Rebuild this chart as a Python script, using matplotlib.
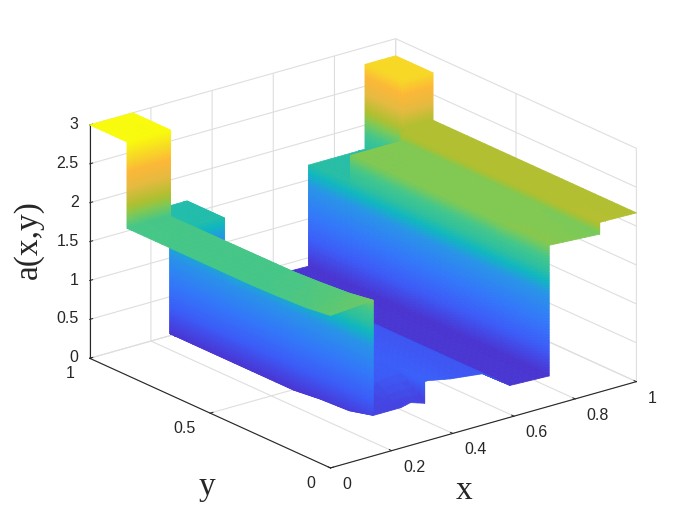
import numpy as np
import matplotlib
matplotlib.use('Agg')
import matplotlib.pyplot as plt
from matplotlib.colors import LinearSegmentedColormap, Normalize

# wezly siatki - powtorzona wartosc oznacza pionowa sciane
x_nodes = [0, .14, .14, .23, .262, .308, .308, .318, .318, .393, .497, .587, .715, .715, .88, .88, .9, .9, 1]
y_nodes = [0, .1, .22, .33, .825, .825, .845, .845, 1]

# a(x,y), jeden wiersz na kazde y_nodes
row_y000 = [1.96, 2.0, .52, .52, .55, .49, .77, .77, .77, .71, .66, .41, .39, 2.07, 2.03, 2.18, 2.18, 2.18, 2.17]
row_y010 = [1.92, 1.95, .44, .70, .72, .73, .75, .75, .75, .71, .66, .41, .39, 2.07, 2.04, 2.18, 2.18, 2.18, 2.17]
row_y022 = [1.90, 1.92, .42, .64, .70, .72, .73, .73, .73, .71, .66, .41, .39, 2.06, 2.05, 2.17, 2.17, 2.17, 2.17]
row_y033 = [1.89, 1.90, .38, .60, .68, .72, .72, .72, .72, .71, .66, .41, .39, 2.06, 2.06, 2.17, 2.17, 2.17, 2.17]
row_y082 = [1.89, 1.89, .38, .60, .68, .72, .72, .72, .72, .71, .66, .41, .39, 2.06, 2.06, 2.17, 2.17, 2.17, 2.17]
row_y083 = [1.89, 1.89, .38, .60, .68, .72, .72, .72, .72, .71, .66, .41, .39, 1.69, 1.69, 1.69, 1.69, 2.17, 2.17]
row_y084 = [1.89, 1.89, .38, .60, .68, .72, .72, .72, .72, .71, .66, .41, .39, 1.69, 1.69, 1.69, 1.69, 2.17, 2.17]
row_y085 = [3.0, 3.0, 1.67, 1.67, 1.67, 1.67, 1.67, 1.67, .40, .40, .40, .40, .39, 1.69, 1.69, 1.69, 1.69, 2.78, 2.78]
row_y100 = [3.0, 3.0, 1.67, 1.67, 1.67, 1.67, 1.67, 1.67, .40, .40, .40, .40, .39, 1.69, 1.69, 1.69, 1.69, 2.78, 2.78]

x_ticks = [0, .2, .4, .6, .8, 1]
y_ticks = [0, .5, 1]
z_ticks = [0, .5, 1, 1.5, 2, 2.5, 3]
x_ticklabels = ['0', '0.2', '0.4', '0.6', '0.8', '1']
y_ticklabels = ['0', '0.5', '1']
z_ticklabels = ['0', '0.5', '1', '1.5', '2', '2.5', '3']

# kolory sciagniete z obrazka, podobne do parula
parula_colors = [(0.2422, 0.1504, 0.6603), (0.29, 0.21, 0.82), (0.27, 0.26, 0.88), (0.235, 0.36, 0.97),
                 (0.20, 0.47, 0.98), (0.16, 0.58, 0.91), (0.06, 0.72, 0.75), (0.17, 0.75, 0.63),
                 (0.27, 0.78, 0.54), (0.50, 0.79, 0.33), (0.69, 0.75, 0.19), (0.90, 0.73, 0.25),
                 (0.99, 0.72, 0.22), (0.97, 0.85, 0.15), (0.976, 0.984, 0.055)]
parula_pos = [0, .13, .17, .24, .35, .47, .53, .57, .63, .685, .723, .8, .87, .93, 1]
parula = LinearSegmentedColormap.from_list('parula', list(zip(parula_pos, parula_colors)))


def fine_index(nodes):
    # sciany dzielimy gesto, zeby byl gradient koloru
    idx = [0.0]
    for i in range(len(nodes) - 1):
        d = nodes[i + 1] - nodes[i]
        n = 48 if d == 0 else max(2, int(np.ceil(d * 40)))
        idx.extend(list(i + np.arange(1, n + 1) / n))
    return np.array(idx)


z_table = np.array([row_y000, row_y010, row_y022, row_y033, row_y082, row_y083, row_y084, row_y085, row_y100])
ix = fine_index(x_nodes)
iy = fine_index(y_nodes)
x_fine = np.interp(ix, np.arange(len(x_nodes)), x_nodes)
y_fine = np.interp(iy, np.arange(len(y_nodes)), y_nodes)
z_tmp = np.array([np.interp(ix, np.arange(len(x_nodes)), r) for r in z_table])
z_fine = np.array([np.interp(iy, np.arange(len(y_nodes)), c) for c in z_tmp.T]).T
X, Y = np.meshgrid(x_fine, y_fine)

fig = plt.figure(figsize=(7, 5.25), dpi=100)
ax = fig.add_axes([0.0085, 0.004, 1, 1], projection='3d')
ax.set_proj_type('ortho')
ax.view_init(elev=21, azim=-128.2)
ax.set_box_aspect((1, 1, .642), zoom=1.118)

norm = Normalize(0, 3)
colors = parula(norm(z_fine))
surf = ax.plot_surface(X, Y, z_fine, facecolors=colors, rstride=1, cstride=1, shade=False,
                       linewidth=.6, antialiased=True)
# osie 3d sa kwadratowe, bez tego ucina prawy rog
surf.set_clip_on(False)

ax.set_xlim(0, 1)
ax.set_ylim(0, 1)
ax.set_zlim(0, 3)
ax.set_xticks(x_ticks, x_ticklabels)
ax.set_yticks(y_ticks, y_ticklabels)
ax.set_zticks(z_ticks, z_ticklabels)

for axis in [ax.xaxis, ax.yaxis, ax.zaxis]:
    axis.set_pane_color((1, 1, 1, 0))
    axis.pane.set_edgecolor('#dcdcdc')
    axis.line.set_color('#262626')
    axis.line.set_linewidth(.8)
    axis._axinfo['grid'].update(color='#dedede', linewidth=.8)
    axis._axinfo['tick'].update(inward_factor=0, outward_factor=.12, linewidth={True: .7, False: .7})

ax.tick_params(axis='x', labelsize=11.5, colors='#262626', pad=1.5)
ax.tick_params(axis='y', labelsize=11.5, colors='#262626', pad=1.5)
ax.tick_params(axis='z', labelsize=11.5, colors='#262626', pad=-4)
for lab in ax.get_xticklabels():
    lab.set(family='Liberation Sans', va='center', ha='left')
for lab in ax.get_yticklabels() + ax.get_zticklabels():
    lab.set(family='Liberation Sans', va='center', ha='right')

fig.text(28 / 700, 1 - 240 / 525, 'a(x,y)', family='Liberation Serif', fontsize=24, rotation=90,
         ha='center', va='center', color='#262626')
fig.text(207 / 700, 1 - 487 / 525, 'y', family='Liberation Serif', fontsize=24, ha='center', va='center', color='#262626')
fig.text(464 / 700, 1 - 491 / 525, 'x', family='Liberation Serif', fontsize=24, ha='center', va='center', color='#262626')

fig.savefig('out.png', dpi=100)
